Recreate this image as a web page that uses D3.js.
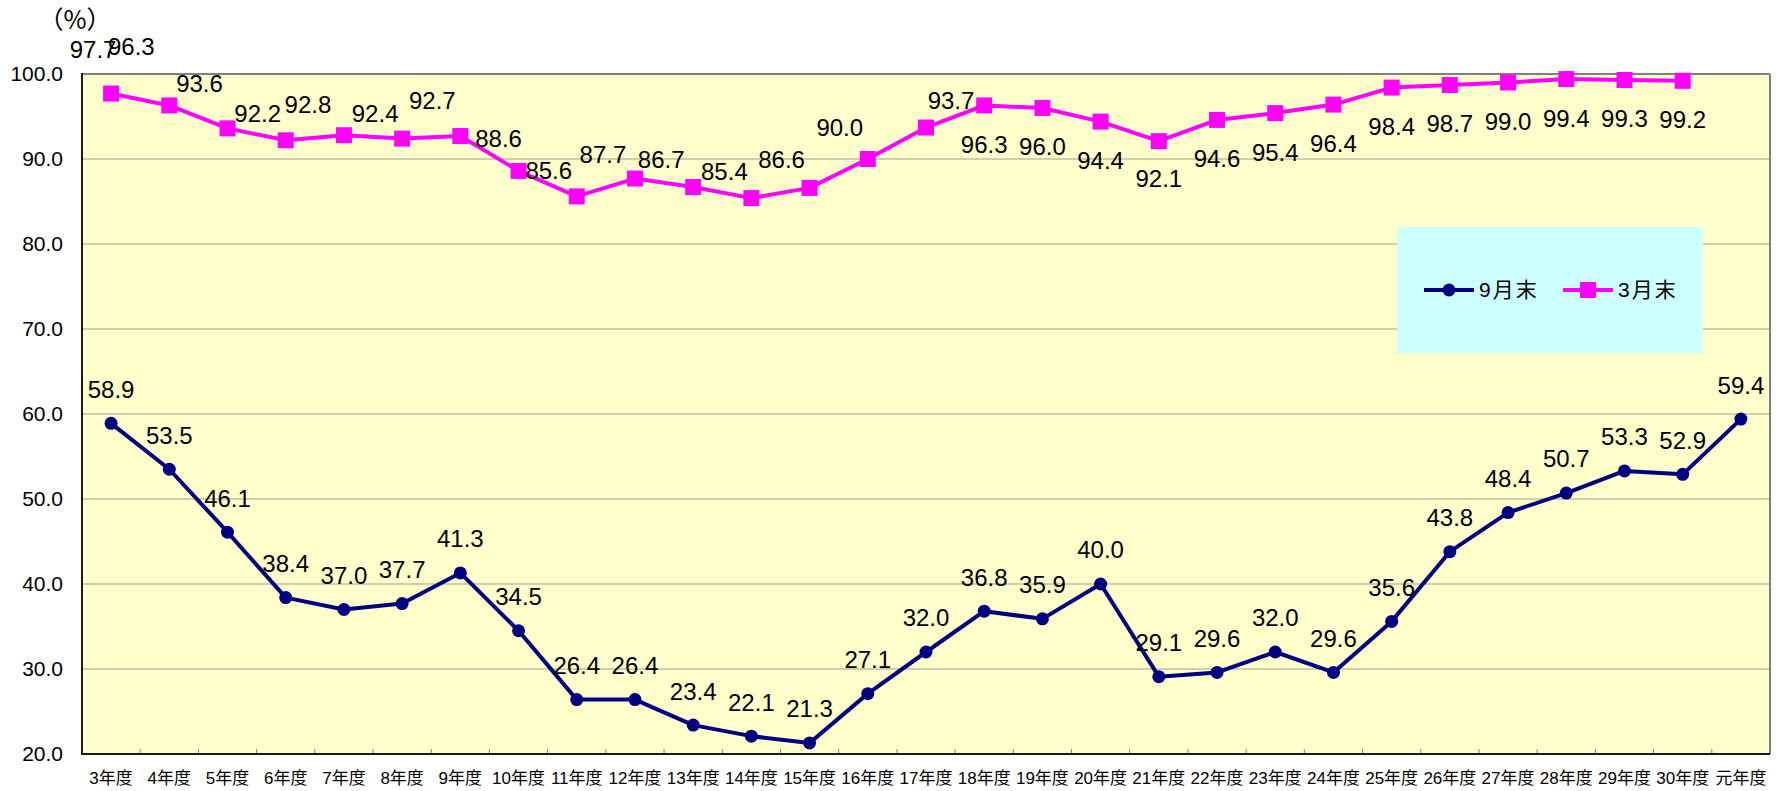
<!DOCTYPE html>
<html>
<head>
<meta charset="utf-8">
<script src="https://cdn.jsdelivr.net/npm/d3@7/dist/d3.min.js"></script>
<style>
  body { margin: 0; background: #ffffff; }
  text { font-family: "Liberation Sans", "Noto Sans CJK JP", sans-serif; }
</style>
</head>
<body>
<script>
// Width and height
var w = 1778;
var h = 791;
var plot = { left: 82, right: 1770, top: 74, bottom: 754 };

// Data
var categories = ["3年度", "4年度", "5年度", "6年度", "7年度", "8年度", "9年度", "10年度",
                  "11年度", "12年度", "13年度", "14年度", "15年度", "16年度", "17年度", "18年度",
                  "19年度", "20年度", "21年度", "22年度", "23年度", "24年度", "25年度", "26年度",
                  "27年度", "28年度", "29年度", "30年度", "元年度"];
var sepValues = [58.9, 53.5, 46.1, 38.4, 37.0, 37.7, 41.3, 34.5, 26.4, 26.4, 23.4, 22.1, 21.3, 27.1,
                 32.0, 36.8, 35.9, 40.0, 29.1, 29.6, 32.0, 29.6, 35.6, 43.8, 48.4, 50.7, 53.3, 52.9, 59.4];
var marValues = [97.7, 96.3, 93.6, 92.2, 92.8, 92.4, 92.7, 88.6, 85.6, 87.7, 86.7, 85.4, 86.6, 90.0,
                 93.7, 96.3, 96.0, 94.4, 92.1, 94.6, 95.4, 96.4, 98.4, 98.7, 99.0, 99.4, 99.3, 99.2];
var yTicks = [20, 30, 40, 50, 60, 70, 80, 90, 100];
var seriesNames = ["9月末", "3月末"];

// Where the 3月末 labels sit relative to their markers (px), as in the original
var marLabelDx = [-18, -38, -28, -28, -36, -27, -28, -20, -28, -32, -32, -27, -28, -28, 25,
                  0, 0, 0, 0, 0, 0, 0, 0, 0, 0, 0, 0, 0];
var marLabelDy = [-44, -59, -45, -27, -31, -25, -35, -32, -26, -24, -27, -27, -28, -31, -27,
                  39, 39, 39, 37, 39, 39, 39, 39, 39, 39, 39, 39, 39];

var navy = "#000080";
var magenta = "#ff00ff";

// Scales
var x = d3.scaleBand()
          .domain(categories)
          .range([plot.left, plot.right]);
var y = d3.scaleLinear()
          .domain([20, 100])
          .range([plot.bottom, plot.top]);
function cx(i) { return x(categories[i]) + x.bandwidth() / 2; }

// Create SVG element
var svg = d3.select("body")
            .append("svg")
            .attr("width", w)
            .attr("height", h);

// Plot background
svg.append("rect")
   .attr("x", plot.left)
   .attr("y", plot.top)
   .attr("width", plot.right - plot.left)
   .attr("height", plot.bottom - plot.top)
   .attr("fill", "#ffffcc");

// Gridlines
svg.selectAll("line.grid")
   .data(yTicks.filter(function(d) { return d > 20 && d < 100; }))
   .enter()
   .append("line")
   .attr("class", "grid")
   .attr("x1", plot.left)
   .attr("x2", plot.right)
   .attr("y1", function(d) { return y(d); })
   .attr("y2", function(d) { return y(d); })
   .attr("stroke", "#a0a08c")
   .attr("stroke-width", 1.2);

// Small ticks between categories on the bottom axis
svg.selectAll("line.xtick")
   .data(categories.slice(1))
   .enter()
   .append("line")
   .attr("class", "xtick")
   .attr("x1", function(d) { return x(d); })
   .attr("x2", function(d) { return x(d); })
   .attr("y1", plot.bottom)
   .attr("y2", plot.bottom - 5)
   .attr("stroke", "#808080")
   .attr("stroke-width", 1);

// Frame: grey top and right, dark left and bottom
svg.append("line").attr("x1", plot.left).attr("x2", plot.right).attr("y1", plot.top).attr("y2", plot.top)
   .attr("stroke", "#808080").attr("stroke-width", 2);
svg.append("line").attr("x1", plot.right).attr("x2", plot.right).attr("y1", plot.top).attr("y2", plot.bottom)
   .attr("stroke", "#808080").attr("stroke-width", 2);
svg.append("line").attr("x1", plot.left).attr("x2", plot.left).attr("y1", plot.top - 1).attr("y2", plot.bottom + 1)
   .attr("stroke", "#1a1a1a").attr("stroke-width", 2);
svg.append("line").attr("x1", plot.left).attr("x2", plot.right).attr("y1", plot.bottom).attr("y2", plot.bottom)
   .attr("stroke", "#1a1a1a").attr("stroke-width", 2);

// Y axis labels
var yAxis = svg.append("g")
               .attr("transform", "translate(" + plot.left + ",0)")
               .call(d3.axisLeft(y).tickValues(yTicks).tickSize(0).tickPadding(19).tickFormat(d3.format(".1f")));
yAxis.select(".domain").remove();
yAxis.selectAll("text")
     .attr("font-size", "21px")
     .attr("fill", "#000")
     .style("font-family", "'Liberation Sans', sans-serif");

// X axis labels
var xAxis = svg.append("g")
               .attr("transform", "translate(0," + plot.bottom + ")")
               .call(d3.axisBottom(x).tickSize(0).tickPadding(18));
xAxis.select(".domain").remove();
xAxis.selectAll("text")
     .attr("font-size", "17px")
     .attr("fill", "#000");

// Unit label
svg.append("text")
   .text("（%）")
   .attr("x", 75)
   .attr("y", 20)
   .attr("dy", "0.35em")
   .attr("text-anchor", "middle")
   .attr("font-size", "25px")
   .attr("fill", "#000")
   .style("font-family", "'Noto Sans CJK JP', sans-serif");

// Lines
var line = d3.line()
             .x(function(d, i) { return cx(i); })
             .y(function(d) { return y(d); });

svg.append("path")
   .datum(sepValues)
   .attr("d", line)
   .attr("fill", "none")
   .attr("stroke", navy)
   .attr("stroke-width", 4)
   .attr("stroke-linejoin", "round");

svg.append("path")
   .datum(marValues)
   .attr("d", line)
   .attr("fill", "none")
   .attr("stroke", magenta)
   .attr("stroke-width", 4)
   .attr("stroke-linejoin", "round");

// Markers
svg.selectAll("circle.sep")
   .data(sepValues)
   .enter()
   .append("circle")
   .attr("class", "sep")
   .attr("cx", function(d, i) { return cx(i); })
   .attr("cy", function(d) { return y(d); })
   .attr("r", 6.5)
   .attr("fill", navy);

svg.selectAll("rect.mar")
   .data(marValues)
   .enter()
   .append("rect")
   .attr("class", "mar")
   .attr("x", function(d, i) { return cx(i) - 8; })
   .attr("y", function(d) { return y(d) - 8; })
   .attr("width", 16)
   .attr("height", 16)
   .attr("fill", magenta);

// Value labels
svg.selectAll("text.seplab")
   .data(sepValues)
   .enter()
   .append("text")
   .attr("class", "seplab")
   .text(function(d) { return d.toFixed(1); })
   .attr("text-anchor", "middle")
   .attr("x", function(d, i) { return cx(i); })
   .attr("y", function(d) { return y(d) - 34; })
   .attr("dy", "0.35em")
   .attr("font-size", "24px")
   .attr("fill", "#000");

svg.selectAll("text.marlab")
   .data(marValues)
   .enter()
   .append("text")
   .attr("class", "marlab")
   .text(function(d) { return d.toFixed(1); })
   .attr("text-anchor", "middle")
   .attr("x", function(d, i) { return cx(i) + marLabelDx[i]; })
   .attr("y", function(d, i) { return y(d) + marLabelDy[i]; })
   .attr("dy", "0.35em")
   .attr("font-size", "24px")
   .attr("fill", "#000");

// Legend
var legend = svg.append("g");
legend.append("rect")
      .attr("x", 1397)
      .attr("y", 227)
      .attr("width", 306)
      .attr("height", 126)
      .attr("fill", "#ccffff");

var legendX = [1424, 1563];
var legendColors = [navy, magenta];
var item = legend.selectAll("g.item")
                 .data(seriesNames)
                 .enter()
                 .append("g")
                 .attr("class", "item")
                 .attr("transform", function(d, i) { return "translate(" + legendX[i] + ",290)"; });
item.append("line")
    .attr("x1", 0)
    .attr("x2", 50)
    .attr("stroke", function(d, i) { return legendColors[i]; })
    .attr("stroke-width", 4);
item.filter(function(d, i) { return i === 0; })
    .append("circle")
    .attr("cx", 25)
    .attr("r", 6.5)
    .attr("fill", navy);
item.filter(function(d, i) { return i === 1; })
    .append("rect")
    .attr("x", 17)
    .attr("y", -8)
    .attr("width", 16)
    .attr("height", 16)
    .attr("fill", magenta);
item.append("text")
    .text(function(d) { return d; })
    .attr("x", 55)
    .attr("dy", "0.35em")
    .attr("font-size", "21px")
    .attr("letter-spacing", "2px")
    .attr("fill", "#000");
</script>
</body>
</html>
